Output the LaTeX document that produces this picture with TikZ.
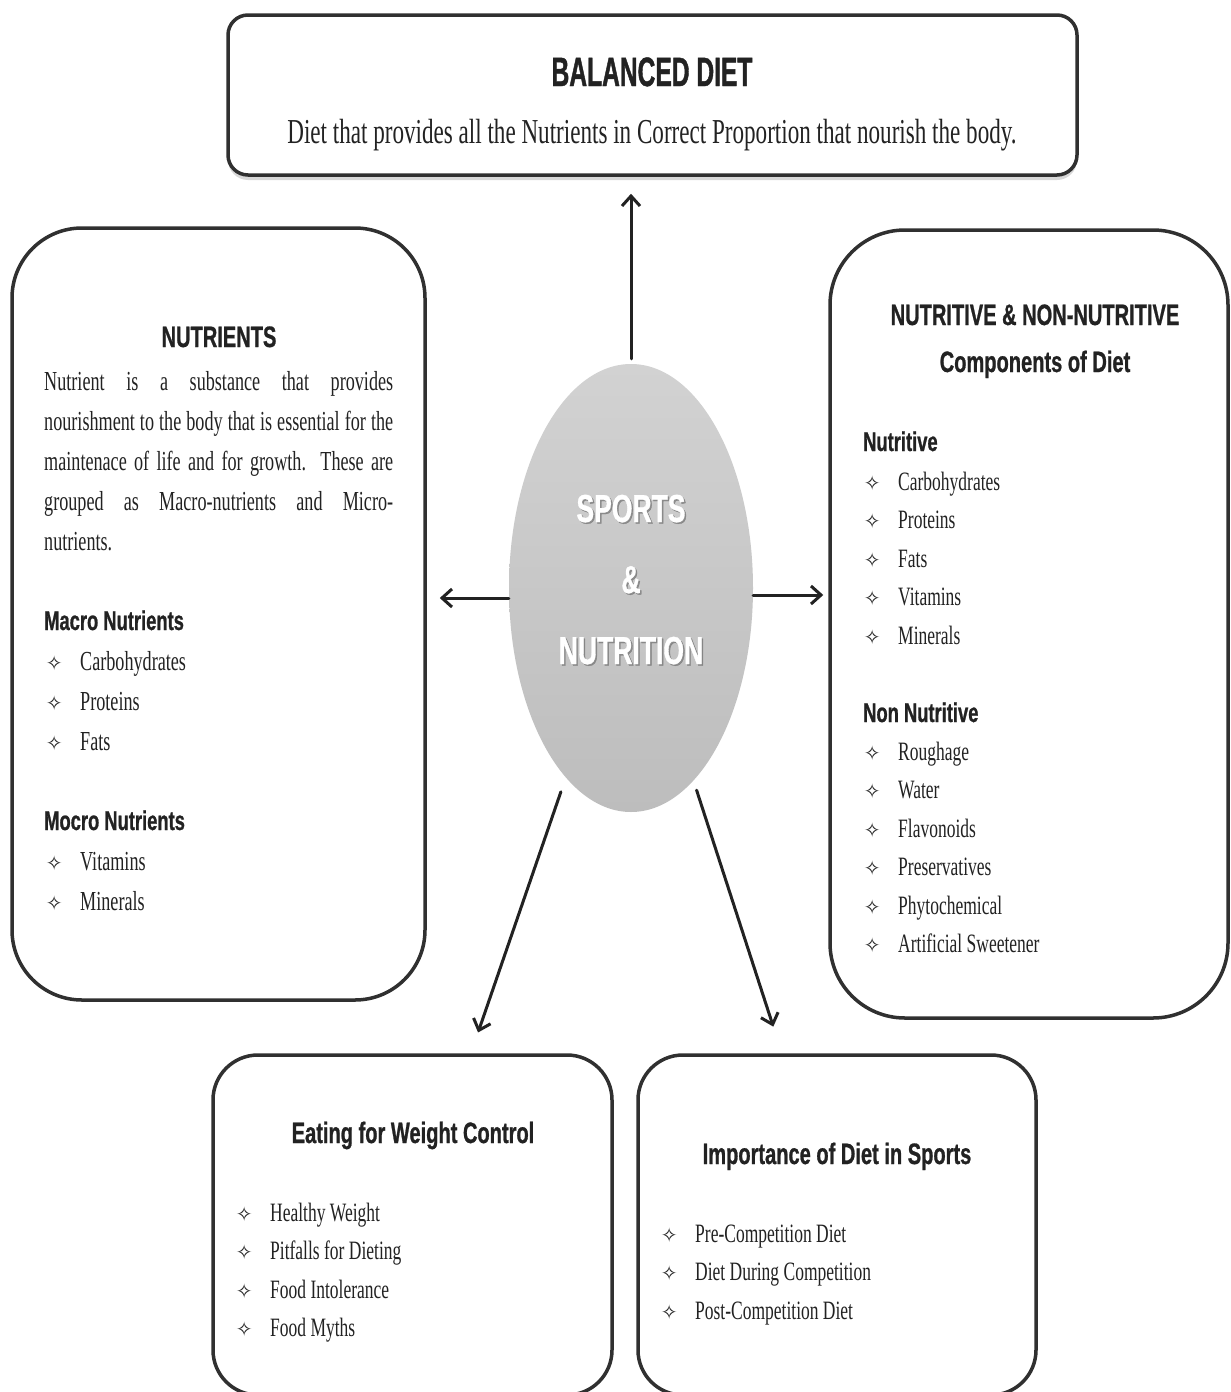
\documentclass[tikz,border=0pt]{standalone}
\usepackage{fontspec}
\setmainfont{Liberation Serif}
\newfontfamily\hsans[FakeStretch=0.68,FakeBold=0.8]{Liberation Sans}
\newfontfamily\tsans[FakeStretch=0.6,FakeBold=1]{Liberation Sans}
\newfontfamily\nserif[FakeStretch=0.66]{Liberation Serif}
\newfontfamily\symfont{DejaVu Sans}
\usetikzlibrary{arrows.meta,shadows,shapes.geometric}
\definecolor{ink}{HTML}{222222}
\definecolor{edge}{HTML}{303030}
\definecolor{ovtop}{HTML}{D2D2D2}
\definecolor{ovbot}{HTML}{BDBDBD}
\newcommand\bl{\makebox[14pt][c]{\symfont\fontsize{20}{20}\selectfont ✧}\hspace{19pt}}
\newcommand\toplines[1]{\parbox[t]{340pt}{\raggedright #1}}
\tikzset{
  panel/.style={draw=edge, line width=3.5pt, fill=white, rectangle, inner sep=0pt},
  heading/.style={inner sep=0pt, text=ink, font=\hsans\bfseries\fontsize{29.5}{34}\selectfont},
  subhead/.style={inner sep=0pt, text=ink, font=\hsans\bfseries\fontsize{27}{30}\selectfont},
  lbody/.style={inner sep=0pt, text=ink, font=\nserif\fontsize{27.5}{40}\selectfont},
  rbody/.style={inner sep=0pt, text=ink, font=\nserif\fontsize{26.5}{38.5}\selectfont},
  arr/.style={draw=ink, line width=3pt, line cap=round,
    -{Straight Barb[length=10pt,width=18pt,line width=3pt]}}
}
\begin{document}
\begin{tikzpicture}[x=1pt,y=-1pt]
\useasboundingbox (0,0) rectangle (1231,1392);
\fill[white] (0,0) rectangle (1231,1392);

% top box
\node[panel, rounded corners=20pt, minimum width=849pt, minimum height=160pt,
  drop shadow={shadow xshift=0pt,shadow yshift=-5pt,opacity=0.3}] (bal) at (652.5,95) {};
\node[inner sep=0pt, text=ink, font=\tsans\bfseries\fontsize{41}{44}\selectfont, anchor=base] (baltitle) at (652,86) {BALANCED DIET};
\node[inner sep=0pt, text=ink, font=\nserif\fontsize{35}{40}\selectfont, anchor=base] (baltext) at (652,143)
  {Diet that provides all the Nutrients in Correct Proportion that nourish the body.};

% left box
\node[panel, rounded corners=70pt, minimum width=413pt, minimum height=772pt] (nutr) at (218.5,614) {};
\node[heading, anchor=base] (nutrhead) at (219,347) {NUTRIENTS};
\node[lbody, anchor=base west] (nutrpara) at (44,390) {\parbox[t]{349pt}{%
  \hbox to 349pt{Nutrient is a substance that provides}%
  \hbox to 349pt{nourishment to the body that is essential for the}%
  \hbox to 349pt{maintenace of life and for growth. These are}%
  \hbox to 349pt{grouped as Macro-nutrients and Micro-}%
  \hbox{nutrients.}}};
\node[subhead, anchor=base west] (macrohead) at (44,630) {Macro Nutrients};
\node[lbody, anchor=base west] (macrolist) at (47,670) {\toplines{\bl Carbohydrates\\ \bl Proteins\\ \bl Fats}};
\node[subhead, anchor=base west] (microhead) at (44,830) {Mocro Nutrients};
\node[lbody, anchor=base west] (microlist) at (47,870) {\toplines{\bl Vitamins\\ \bl Minerals}};

% right box
\node[panel, rounded corners=75pt, minimum width=398pt, minimum height=788pt] (comp) at (1029,624) {};
\node[heading, anchor=base] (comphead) at (1035,325) {NUTRITIVE \& NON-NUTRITIVE};
\node[heading, anchor=base] (compsub) at (1035,372) {Components of Diet};
\node[subhead, anchor=base west] (nuthead) at (863,451) {Nutritive};
\node[rbody, anchor=base west] (nutlist) at (865,490)
  {\toplines{\bl Carbohydrates\\ \bl Proteins\\ \bl Fats\\ \bl Vitamins\\ \bl Minerals}};
\node[subhead, anchor=base west] (nonhead) at (863,722) {Non Nutritive};
\node[rbody, anchor=base west] (nonlist) at (865,760)
  {\toplines{\bl Roughage\\ \bl Water\\ \bl Flavonoids\\ \bl Preservatives\\ \bl Phytochemical\\ \bl Artificial Sweetener}};

% bottom left box
\node[panel, rounded corners=45pt, minimum width=399pt, minimum height=340pt] (wc) at (412.5,1225) {};
\node[heading, anchor=base] (wchead) at (413,1143) {Eating for Weight Control};
\node[rbody, anchor=base west] (wclist) at (237,1221)
  {\toplines{\bl Healthy Weight\\ \bl Pitfalls for Dieting\\ \bl Food Intolerance\\ \bl Food Myths}};

% bottom right box
\node[panel, rounded corners=45pt, minimum width=398pt, minimum height=340pt] (imp) at (837,1225) {};
\node[heading, anchor=base] (imphead) at (837,1164) {Importance of Diet in Sports};
\node[rbody, anchor=base west] (implist) at (662,1242)
  {\toplines{\bl Pre-Competition Diet\\ \bl Diet During Competition\\ \bl Post-Competition Diet}};

% centre ellipse
\node[ellipse, draw=none, minimum width=244pt, minimum height=448pt,
  top color=ovtop, bottom color=ovbot] (sn) at (631,588) {};
\node[inner sep=0pt, text=black!55, opacity=0.7,
  font=\hsans\bfseries\fontsize{39}{71}\selectfont, anchor=base] (snshadow) at (632.5,523.5)
  {\parbox[t]{240pt}{\centering SPORTS\\\&\\NUTRITION}};
\node[inner sep=0pt, text=white,
  font=\hsans\bfseries\fontsize{39}{71}\selectfont, anchor=base] (sntext) at (631,522)
  {\parbox[t]{240pt}{\centering SPORTS\\\&\\NUTRITION}};

% connectors
\draw[arr, shorten <=5pt, shorten >=17pt] (sn.north) -- (sn.north |- bal.south);
\draw[arr, shorten >=13pt] ([yshift=-10pt]sn.west) -- ([yshift=-10pt]sn.west -| nutr.east);
\draw[arr, shorten >=5pt] ([yshift=-7pt]sn.east) -- ([yshift=-7pt]sn.east -| comp.west);
\draw[arr, shorten <=15pt, shorten >=22pt] (sn) -- (wc);
\draw[arr, shorten <=10pt, shorten >=28pt] (sn) -- (imp);
\end{tikzpicture}
\end{document}
